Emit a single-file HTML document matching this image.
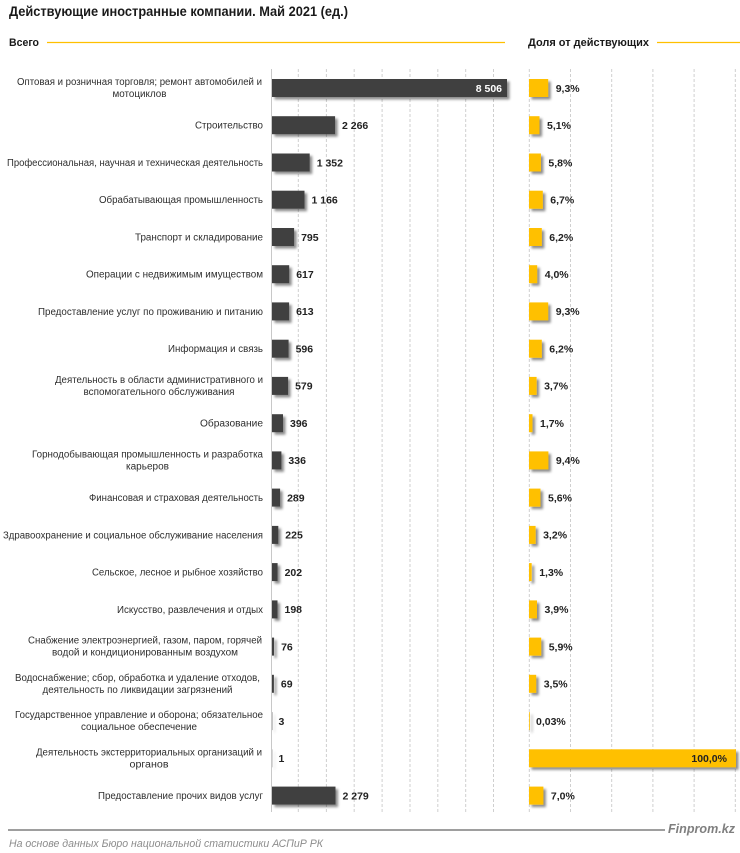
<!DOCTYPE html>
<html><head><meta charset="utf-8"><style>
html,body{margin:0;padding:0;background:#fff;}
svg{display:block;}
text{font-family:"Liberation Sans","Noto Sans CJK SC",sans-serif;}
.lb{font-size:10px;fill:#2e2e2e;}
.v{font-size:10.5px;font-weight:bold;fill:#222;}
</style></head><body>
<svg width="740" height="853" viewBox="0 0 740 853" xmlns="http://www.w3.org/2000/svg">
<defs>
<filter id="sh" filterUnits="userSpaceOnUse" x="0" y="0" width="740" height="853">
<feDropShadow dx="2.5" dy="2.5" stdDeviation="1.2" flood-color="#000" flood-opacity="0.45"/>
</filter>
</defs>
<text x="9" y="16" font-size="14" font-weight="bold" fill="#1a1a1a" textLength="339" lengthAdjust="spacingAndGlyphs">Действующие иностранные компании. Май 2021 (ед.)</text>
<text x="9" y="46" font-size="11" font-weight="bold" fill="#1a1a1a" textLength="30" lengthAdjust="spacingAndGlyphs">Всего</text>
<line x1="47" y1="42.5" x2="505" y2="42.5" stroke="#FFC000" stroke-width="1.3"/>
<text x="528" y="46" font-size="11" font-weight="bold" fill="#1a1a1a" textLength="121" lengthAdjust="spacingAndGlyphs">Доля от действующих</text>
<line x1="657" y1="42.5" x2="740" y2="42.5" stroke="#FFC000" stroke-width="1.3"/>

<g stroke="#cfcfcf" stroke-width="1" stroke-dasharray="3,2">
<line x1="298.3" y1="69" x2="298.3" y2="812"/>
<line x1="326.4" y1="69" x2="326.4" y2="812"/>
<line x1="354.2" y1="69" x2="354.2" y2="812"/>
<line x1="382.1" y1="69" x2="382.1" y2="812"/>
<line x1="410" y1="69" x2="410" y2="812"/>
<line x1="437.8" y1="69" x2="437.8" y2="812"/>
<line x1="465.7" y1="69" x2="465.7" y2="812"/>
<line x1="493.5" y1="69" x2="493.5" y2="812"/>
<line x1="529.3" y1="69" x2="529.3" y2="812"/>
<line x1="570.5" y1="69" x2="570.5" y2="812"/>
<line x1="611.7" y1="69" x2="611.7" y2="812"/>
<line x1="652.9" y1="69" x2="652.9" y2="812"/>
<line x1="694.1" y1="69" x2="694.1" y2="812"/>
<line x1="735.3" y1="69" x2="735.3" y2="812"/>
</g>
<line x1="271.5" y1="69" x2="271.5" y2="812" stroke="#c8c8c8" stroke-width="1"/>

<g fill="#404040" filter="url(#sh)">
<rect x="272" y="79" width="235" height="18"/>
<rect x="272" y="116.2" width="63.1" height="18"/>
<rect x="272" y="153.5" width="37.7" height="18"/>
<rect x="272" y="190.7" width="32.5" height="18"/>
<rect x="272" y="228" width="22.1" height="18"/>
<rect x="272" y="265.2" width="17.2" height="18"/>
<rect x="272" y="302.4" width="17.1" height="18"/>
<rect x="272" y="339.7" width="16.6" height="18"/>
<rect x="272" y="376.9" width="16.1" height="18"/>
<rect x="272" y="414.2" width="11" height="18"/>
<rect x="272" y="451.4" width="9.4" height="18"/>
<rect x="272" y="488.6" width="8.1" height="18"/>
<rect x="272" y="525.9" width="6.3" height="18"/>
<rect x="272" y="563.1" width="5.6" height="18"/>
<rect x="272" y="600.4" width="5.5" height="18"/>
<rect x="272" y="637.6" width="2.1" height="18"/>
<rect x="272" y="674.8" width="1.9" height="18"/>
<rect x="272" y="712.1" width="0.3" height="18"/>
<rect x="272" y="749.3" width="0.2" height="18"/>
<rect x="272" y="786.6" width="63.5" height="18"/>
</g>

<g fill="#FFC000" filter="url(#sh)">
<rect x="529" y="79" width="19.2" height="18"/>
<rect x="529" y="116.2" width="10.5" height="18"/>
<rect x="529" y="153.5" width="11.9" height="18"/>
<rect x="529" y="190.7" width="13.8" height="18"/>
<rect x="529" y="228" width="12.8" height="18"/>
<rect x="529" y="265.2" width="8.2" height="18"/>
<rect x="529" y="302.4" width="19.2" height="18"/>
<rect x="529" y="339.7" width="12.8" height="18"/>
<rect x="529" y="376.9" width="7.6" height="18"/>
<rect x="529" y="414.2" width="3.5" height="18"/>
<rect x="529" y="451.4" width="19.4" height="18"/>
<rect x="529" y="488.6" width="11.5" height="18"/>
<rect x="529" y="525.9" width="6.6" height="18"/>
<rect x="529" y="563.1" width="2.7" height="18"/>
<rect x="529" y="600.4" width="8" height="18"/>
<rect x="529" y="637.6" width="12.2" height="18"/>
<rect x="529" y="674.8" width="7.2" height="18"/>
<rect x="529" y="712.1" width="0.8" height="18"/>
<rect x="529" y="749.3" width="207" height="18"/>
<rect x="529" y="786.6" width="14.4" height="18"/>
</g>

<g class="lb">
<text x="139.5" y="85" text-anchor="middle" textLength="245" lengthAdjust="spacingAndGlyphs">Оптовая и розничная торговля; ремонт автомобилей и</text>
<text x="139.5" y="97" text-anchor="middle" textLength="54" lengthAdjust="spacingAndGlyphs">мотоциклов</text>
<text x="263" y="128.7" text-anchor="end" textLength="68" lengthAdjust="spacingAndGlyphs">Строительство</text>
<text x="263" y="166" text-anchor="end" textLength="256" lengthAdjust="spacingAndGlyphs">Профессиональная, научная и техническая деятельность</text>
<text x="263" y="203.2" text-anchor="end" textLength="164" lengthAdjust="spacingAndGlyphs">Обрабатывающая промышленность</text>
<text x="263" y="240.5" text-anchor="end" textLength="128" lengthAdjust="spacingAndGlyphs">Транспорт и складирование</text>
<text x="263" y="277.7" text-anchor="end" textLength="177" lengthAdjust="spacingAndGlyphs">Операции с недвижимым имуществом</text>
<text x="263" y="314.9" text-anchor="end" textLength="225" lengthAdjust="spacingAndGlyphs">Предоставление услуг по проживанию и питанию</text>
<text x="263" y="352.2" text-anchor="end" textLength="95" lengthAdjust="spacingAndGlyphs">Информация и связь</text>
<text x="159" y="382.9" text-anchor="middle" textLength="208" lengthAdjust="spacingAndGlyphs">Деятельность в области административного и</text>
<text x="159" y="394.9" text-anchor="middle" textLength="151" lengthAdjust="spacingAndGlyphs">вспомогательного обслуживания</text>
<text x="263" y="426.7" text-anchor="end" textLength="63" lengthAdjust="spacingAndGlyphs">Образование</text>
<text x="147.5" y="457.4" text-anchor="middle" textLength="231" lengthAdjust="spacingAndGlyphs">Горнодобывающая промышленность и разработка</text>
<text x="147.5" y="469.4" text-anchor="middle" textLength="43" lengthAdjust="spacingAndGlyphs">карьеров</text>
<text x="263" y="501.1" text-anchor="end" textLength="174" lengthAdjust="spacingAndGlyphs">Финансовая и страховая деятельность</text>
<text x="263" y="538.4" text-anchor="end" textLength="260" lengthAdjust="spacingAndGlyphs">Здравоохранение и социальное обслуживание населения</text>
<text x="263" y="575.6" text-anchor="end" textLength="171" lengthAdjust="spacingAndGlyphs">Сельское, лесное и рыбное хозяйство</text>
<text x="263" y="612.9" text-anchor="end" textLength="146" lengthAdjust="spacingAndGlyphs">Искусство, развлечения и отдых</text>
<text x="145" y="643.6" text-anchor="middle" textLength="234" lengthAdjust="spacingAndGlyphs">Снабжение электроэнергией, газом, паром, горячей</text>
<text x="145" y="655.6" text-anchor="middle" textLength="186" lengthAdjust="spacingAndGlyphs">водой и кондиционированным воздухом</text>
<text x="137.5" y="680.8" text-anchor="middle" textLength="245" lengthAdjust="spacingAndGlyphs">Водоснабжение; сбор, обработка и удаление отходов,</text>
<text x="137.5" y="692.8" text-anchor="middle" textLength="190" lengthAdjust="spacingAndGlyphs">деятельность по ликвидации загрязнений</text>
<text x="139" y="718.1" text-anchor="middle" textLength="248" lengthAdjust="spacingAndGlyphs">Государственное управление и оборона; обязательное</text>
<text x="139" y="730.1" text-anchor="middle" textLength="116" lengthAdjust="spacingAndGlyphs">социальное обеспечение</text>
<text x="149" y="755.3" text-anchor="middle" textLength="226" lengthAdjust="spacingAndGlyphs">Деятельность экстерриториальных организаций и</text>
<text x="149" y="767.3" text-anchor="middle" textLength="39" lengthAdjust="spacingAndGlyphs">органов</text>
<text x="263" y="799.1" text-anchor="end" textLength="165" lengthAdjust="spacingAndGlyphs">Предоставление прочих видов услуг</text>
</g>

<g class="v">
<text x="502" y="91.8" text-anchor="end" style="fill:#fff">8 506</text>
<text x="342" y="129">2 266</text>
<text x="316.7" y="166.3">1 352</text>
<text x="311.5" y="203.5">1 166</text>
<text x="301.1" y="240.8">795</text>
<text x="296.2" y="278">617</text>
<text x="296.1" y="315.2">613</text>
<text x="295.6" y="352.5">596</text>
<text x="295.1" y="389.7">579</text>
<text x="290" y="427">396</text>
<text x="288.4" y="464.2">336</text>
<text x="287.1" y="501.4">289</text>
<text x="285.3" y="538.7">225</text>
<text x="284.6" y="575.9">202</text>
<text x="284.5" y="613.2">198</text>
<text x="281.1" y="650.4">76</text>
<text x="280.9" y="687.6">69</text>
<text x="278.5" y="724.9">3</text>
<text x="278.5" y="762.1">1</text>
<text x="342.5" y="799.4">2 279</text>

<text x="555.7" y="91.8">9,3%</text>
<text x="547" y="129">5,1%</text>
<text x="548.4" y="166.3">5,8%</text>
<text x="550.3" y="203.5">6,7%</text>
<text x="549.3" y="240.8">6,2%</text>
<text x="544.7" y="278">4,0%</text>
<text x="555.7" y="315.2">9,3%</text>
<text x="549.3" y="352.5">6,2%</text>
<text x="544.1" y="389.7">3,7%</text>
<text x="540" y="427">1,7%</text>
<text x="555.9" y="464.2">9,4%</text>
<text x="548" y="501.4">5,6%</text>
<text x="543.1" y="538.7">3,2%</text>
<text x="539.2" y="575.9">1,3%</text>
<text x="544.5" y="613.2">3,9%</text>
<text x="548.7" y="650.4">5,9%</text>
<text x="543.7" y="687.6">3,5%</text>
<text x="536" y="724.9">0,03%</text>
<text x="727" y="762.1" text-anchor="end">100,0%</text>
<text x="550.9" y="799.4">7,0%</text>
</g>

<line x1="8" y1="830" x2="665" y2="830" stroke="#7f7f7f" stroke-width="1.5"/>
<text x="668" y="833" font-size="13" font-weight="bold" font-style="italic" fill="#7f7f7f" textLength="67" lengthAdjust="spacingAndGlyphs">Finprom.kz</text>
<text x="9" y="847" font-size="11" font-style="italic" fill="#8c8c8c" textLength="314" lengthAdjust="spacingAndGlyphs">На основе данных Бюро национальной статистики АСПиР РК</text>
</svg>
</body></html>
